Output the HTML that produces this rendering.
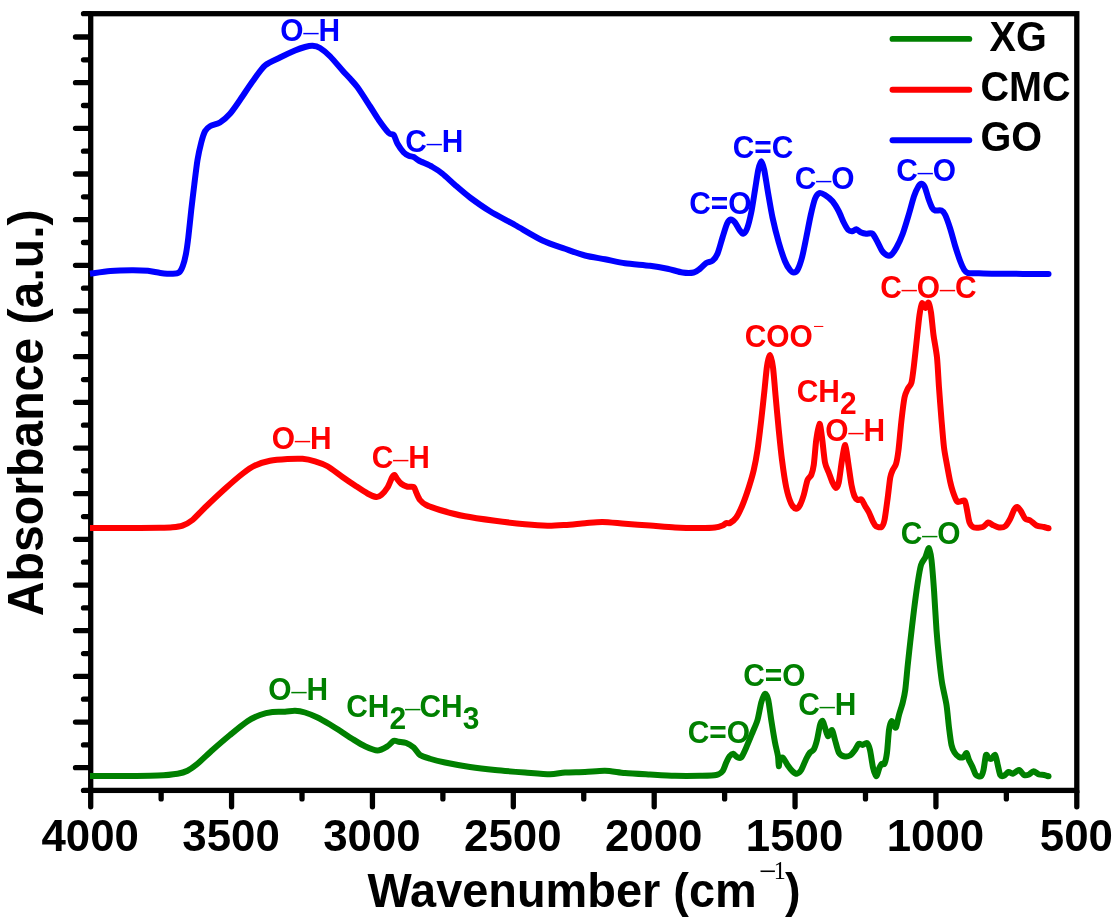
<!DOCTYPE html>
<html><head><meta charset="utf-8"><title>FTIR spectra</title>
<style>
html,body{margin:0;padding:0;background:#fff;}
svg{display:block;font-family:"Liberation Sans",sans-serif;}
</style></head><body>
<svg width="1119" height="923" viewBox="0 0 1119 923">
<rect width="1119" height="923" fill="#fff"/>
<rect x="90.70" y="13.70" width="986.10" height="776.70" fill="none" stroke="#000" stroke-width="5.30"/>
<path d="M89.70 37.00 H75.50M89.70 82.67 H75.50M89.70 128.34 H75.50M89.70 174.01 H75.50M89.70 219.68 H75.50M89.70 265.35 H75.50M89.70 311.02 H75.50M89.70 356.69 H75.50M89.70 402.36 H75.50M89.70 448.03 H75.50M89.70 493.70 H75.50M89.70 539.37 H75.50M89.70 585.04 H75.50M89.70 630.71 H75.50M89.70 676.38 H75.50M89.70 722.05 H75.50M89.70 767.72 H75.50M89.70 13.70 H83.50M89.70 59.84 H83.50M89.70 105.50 H83.50M89.70 151.18 H83.50M89.70 196.84 H83.50M89.70 242.52 H83.50M89.70 288.19 H83.50M89.70 333.86 H83.50M89.70 379.53 H83.50M89.70 425.19 H83.50M89.70 470.87 H83.50M89.70 516.54 H83.50M89.70 562.21 H83.50M89.70 607.88 H83.50M89.70 653.55 H83.50M89.70 699.22 H83.50M89.70 744.88 H83.50M89.70 790.40 H83.50M90.70 791.40 V806.80M231.57 791.40 V806.80M372.44 791.40 V806.80M513.31 791.40 V806.80M654.19 791.40 V806.80M795.06 791.40 V806.80M935.93 791.40 V806.80M1076.80 791.40 V806.80M161.14 791.40 V798.90M302.01 791.40 V798.90M442.88 791.40 V798.90M583.75 791.40 V798.90M724.62 791.40 V798.90M865.49 791.40 V798.90M1006.36 791.40 V798.90" fill="none" stroke="#000" stroke-width="5.3" stroke-linecap="round"/>
<path d="M90.00 273.70C92.72 273.34 104.83 271.47 110.40 271.00C115.97 270.53 126.80 270.23 131.80 270.20C136.80 270.17 144.09 270.44 147.90 270.80C151.71 271.16 157.07 272.50 160.40 272.90C163.73 273.30 170.39 273.87 172.90 273.80C175.41 273.73 177.88 273.43 179.20 272.40C180.52 271.37 181.89 268.61 182.80 266.10C183.71 263.59 185.27 257.41 186.00 253.60C186.73 249.79 187.60 243.31 188.30 237.50C189.00 231.69 190.46 217.00 191.25 210.00C192.04 203.00 193.42 191.67 194.25 185.00C195.08 178.33 196.57 165.67 197.50 160.00C198.43 154.33 200.25 146.33 201.25 142.50C202.25 138.67 203.83 133.42 205.00 131.25C206.17 129.08 208.00 127.42 210.00 126.25C212.00 125.08 217.33 124.17 220.00 122.50C222.67 120.83 227.33 116.75 230.00 113.75C232.67 110.75 237.00 104.30 240.00 100.00C243.00 95.70 249.17 86.10 252.50 81.50C255.83 76.90 261.33 68.70 265.00 65.50C268.67 62.30 276.00 59.50 280.00 57.50C284.00 55.50 291.67 51.90 295.00 50.50C298.33 49.10 302.67 47.63 305.00 47.00C307.33 46.37 310.50 45.62 312.50 45.75C314.50 45.88 317.67 46.60 320.00 48.00C322.33 49.40 327.00 53.25 330.00 56.25C333.00 59.25 339.83 67.52 342.50 70.50C345.17 73.48 348.00 76.36 350.00 78.60C352.00 80.84 354.83 83.61 357.50 87.30C360.17 90.99 367.17 101.89 370.00 106.25C372.83 110.61 376.25 116.43 378.75 120.00C381.25 123.57 386.75 131.00 388.75 133.00C390.75 135.00 392.58 133.57 393.75 135.00C394.92 136.43 396.17 141.42 397.50 143.75C398.83 146.08 402.25 150.90 403.75 152.50C405.25 154.10 407.42 155.15 408.75 155.75C410.08 156.35 412.42 156.37 413.75 157.00C415.08 157.63 416.25 159.17 418.75 160.50C421.25 161.83 429.33 165.23 432.50 167.00C435.67 168.77 439.50 171.35 442.50 173.75C445.50 176.15 451.33 181.83 455.00 185.00C458.67 188.17 465.33 194.00 470.00 197.50C474.67 201.00 484.00 207.58 490.00 211.25C496.00 214.92 508.00 221.10 515.00 225.00C522.00 228.90 535.83 237.33 542.50 240.50C549.17 243.67 559.33 246.75 565.00 248.75C570.67 250.75 579.67 254.10 585.00 255.50C590.33 256.90 599.67 258.22 605.00 259.25C610.33 260.28 619.00 262.38 625.00 263.25C631.00 264.12 644.33 265.02 650.00 265.75C655.67 266.48 663.17 267.85 667.50 268.75C671.83 269.65 679.00 272.00 682.50 272.50C686.00 273.00 691.42 273.00 693.75 272.50C696.08 272.00 698.33 270.02 700.00 268.75C701.67 267.48 704.58 264.07 706.25 263.00C707.92 261.93 711.00 261.98 712.50 260.75C714.00 259.52 716.17 256.85 717.50 253.75C718.83 250.65 721.23 241.50 722.50 237.50C723.77 233.50 725.90 226.15 727.00 223.75C728.10 221.35 729.68 219.67 730.75 219.50C731.82 219.33 733.83 221.10 735.00 222.50C736.17 223.90 738.43 228.50 739.50 230.00C740.57 231.50 742.00 233.92 743.00 233.75C744.00 233.58 745.90 231.58 747.00 228.75C748.10 225.92 750.18 217.67 751.25 212.50C752.32 207.33 754.07 195.67 755.00 190.00C755.93 184.33 757.42 173.83 758.25 170.00C759.08 166.17 760.45 161.25 761.25 161.25C762.05 161.25 763.35 165.83 764.25 170.00C765.15 174.17 766.90 186.17 768.00 192.50C769.10 198.83 771.07 210.83 772.50 217.50C773.93 224.17 777.08 236.67 778.75 242.50C780.42 248.33 783.50 257.58 785.00 261.25C786.50 264.92 788.83 268.50 790.00 270.00C791.17 271.50 792.75 272.50 793.75 272.50C794.75 272.50 796.40 272.00 797.50 270.00C798.60 268.00 800.83 261.83 802.00 257.50C803.17 253.17 805.08 243.17 806.25 237.50C807.42 231.83 809.58 220.17 810.75 215.00C811.92 209.83 813.83 201.68 815.00 198.75C816.17 195.82 818.17 193.50 819.50 193.00C820.83 192.50 823.27 193.90 825.00 195.00C826.73 196.10 830.67 199.08 832.50 201.25C834.33 203.42 837.25 208.42 838.75 211.25C840.25 214.08 842.48 220.00 843.75 222.50C845.02 225.00 847.08 228.83 848.25 230.00C849.42 231.17 851.43 231.35 852.50 231.25C853.57 231.15 855.08 229.08 856.25 229.25C857.42 229.42 859.92 231.90 861.25 232.50C862.58 233.10 864.75 233.58 866.25 233.75C867.75 233.92 870.97 232.58 872.50 233.75C874.03 234.92 876.48 240.23 877.75 242.50C879.02 244.77 880.83 249.08 882.00 250.75C883.17 252.42 885.30 254.43 886.50 255.00C887.70 255.57 889.67 256.00 891.00 255.00C892.33 254.00 894.93 250.33 896.50 247.50C898.07 244.67 901.08 238.25 902.75 233.75C904.42 229.25 907.50 218.75 909.00 213.75C910.50 208.75 912.73 199.92 914.00 196.25C915.27 192.58 917.50 187.92 918.50 186.25C919.50 184.58 920.67 183.65 921.50 183.75C922.33 183.85 923.82 185.00 924.75 187.00C925.68 189.00 927.50 195.95 928.50 198.75C929.50 201.55 931.35 206.43 932.25 208.00C933.15 209.57 934.02 210.17 935.25 210.50C936.48 210.83 940.17 209.90 941.50 210.50C942.83 211.10 944.08 212.57 945.25 215.00C946.42 217.43 948.92 224.58 950.25 228.75C951.58 232.92 953.92 241.92 955.25 246.25C956.58 250.58 959.08 258.15 960.25 261.25C961.42 264.35 963.00 267.93 964.00 269.50C965.00 271.07 965.75 272.50 967.75 273.00C969.75 273.50 974.83 273.15 979.00 273.25C983.17 273.35 989.73 273.65 999.00 273.75C1008.27 273.85 1041.90 273.97 1048.50 274.00" fill="none" stroke="#0000ff" stroke-width="6" stroke-linejoin="round" stroke-linecap="butt"/>
<circle cx="1048.50" cy="274.00" r="3" fill="#0000ff"/>
<path d="M90.00 527.90C96.67 527.90 130.67 527.91 140.00 527.90C149.33 527.89 155.67 527.88 160.00 527.80C164.33 527.72 169.50 527.59 172.50 527.30C175.50 527.01 179.83 526.57 182.50 525.60C185.17 524.63 189.50 522.41 192.50 520.00C195.50 517.59 200.67 511.67 205.00 507.50C209.33 503.33 220.00 493.25 225.00 488.75C230.00 484.25 238.50 476.85 242.50 473.75C246.50 470.65 251.33 467.23 255.00 465.50C258.67 463.77 265.67 461.67 270.00 460.80C274.33 459.93 283.17 459.27 287.50 459.00C291.83 458.73 298.83 458.49 302.50 458.80C306.17 459.11 311.67 460.31 315.00 461.30C318.33 462.29 323.83 464.16 327.50 466.25C331.17 468.34 338.83 474.43 342.50 477.00C346.17 479.57 351.67 483.30 355.00 485.50C358.33 487.70 364.67 491.97 367.50 493.50C370.33 495.03 374.42 496.80 376.25 497.00C378.08 497.20 379.75 496.27 381.25 495.00C382.75 493.73 386.07 489.83 387.50 487.50C388.93 485.17 391.07 479.17 392.00 477.50C392.93 475.83 393.83 474.83 394.50 475.00C395.17 475.17 396.10 477.58 397.00 478.75C397.90 479.92 399.85 482.68 401.25 483.75C402.65 484.82 405.83 486.32 407.50 486.75C409.17 487.18 412.58 486.23 413.75 487.00C414.92 487.77 415.42 490.77 416.25 492.50C417.08 494.23 418.67 498.33 420.00 500.00C421.33 501.67 423.58 503.67 426.25 505.00C428.92 506.33 434.83 508.50 440.00 510.00C445.17 511.50 457.67 514.82 465.00 516.25C472.33 517.68 487.00 519.68 495.00 520.75C503.00 521.82 518.00 523.58 525.00 524.25C532.00 524.92 542.17 525.65 547.50 525.75C552.83 525.85 560.00 525.33 565.00 525.00C570.00 524.67 580.00 523.65 585.00 523.25C590.00 522.85 597.17 521.93 602.50 522.00C607.83 522.07 618.67 523.28 625.00 523.75C631.33 524.22 643.33 525.00 650.00 525.50C656.67 526.00 668.33 527.17 675.00 527.50C681.67 527.83 694.67 528.00 700.00 528.00C705.33 528.00 712.00 527.83 715.00 527.50C718.00 527.17 721.00 526.10 722.50 525.50C724.00 524.90 725.25 523.33 726.25 523.00C727.25 522.67 728.67 523.73 730.00 523.00C731.33 522.27 734.58 519.90 736.25 517.50C737.92 515.10 740.83 509.00 742.50 505.00C744.17 501.00 747.25 492.17 748.75 487.50C750.25 482.83 752.58 475.00 753.75 470.00C754.92 465.00 756.50 456.67 757.50 450.00C758.50 443.33 760.32 428.00 761.25 420.00C762.18 412.00 763.73 397.17 764.50 390.00C765.27 382.83 766.27 370.92 767.00 366.25C767.73 361.58 769.20 354.83 770.00 355.00C770.80 355.17 772.27 362.17 773.00 367.50C773.73 372.83 774.73 386.67 775.50 395.00C776.27 403.33 777.88 421.33 778.75 430.00C779.62 438.67 781.00 452.33 782.00 460.00C783.00 467.67 785.02 481.67 786.25 487.50C787.48 493.33 789.92 500.92 791.25 503.75C792.58 506.58 795.08 508.58 796.25 508.75C797.42 508.92 799.00 506.83 800.00 505.00C801.00 503.17 802.75 498.33 803.75 495.00C804.75 491.67 806.50 482.67 807.50 480.00C808.50 477.33 810.42 477.00 811.25 475.00C812.08 473.00 813.08 469.67 813.75 465.00C814.42 460.33 815.48 445.50 816.25 440.00C817.02 434.50 818.73 424.08 819.50 423.75C820.27 423.42 821.27 432.33 822.00 437.50C822.73 442.67 824.10 457.83 825.00 462.50C825.90 467.17 827.75 469.83 828.75 472.50C829.75 475.17 831.57 480.43 832.50 482.50C833.43 484.57 834.92 488.00 835.75 488.00C836.58 488.00 837.92 486.23 838.75 482.50C839.58 478.77 841.13 465.00 842.00 460.00C842.87 455.00 844.38 444.33 845.25 445.00C846.12 445.67 847.67 459.67 848.50 465.00C849.33 470.33 850.70 480.83 851.50 485.00C852.30 489.17 853.67 494.25 854.50 496.25C855.33 498.25 856.82 499.57 857.75 500.00C858.68 500.43 860.50 498.67 861.50 499.50C862.50 500.33 864.25 504.52 865.25 506.25C866.25 507.98 868.00 510.50 869.00 512.50C870.00 514.50 871.82 519.42 872.75 521.25C873.68 523.08 874.83 525.48 876.00 526.25C877.17 527.02 880.37 527.83 881.50 527.00C882.63 526.17 883.67 523.93 884.50 520.00C885.33 516.07 886.98 503.17 887.75 497.50C888.52 491.83 889.58 481.17 890.25 477.50C890.92 473.83 891.98 471.80 892.75 470.00C893.52 468.20 895.23 466.67 896.00 464.00C896.77 461.33 897.77 455.87 898.50 450.00C899.23 444.13 900.70 427.00 901.50 420.00C902.30 413.00 903.67 401.67 904.50 397.50C905.33 393.33 906.82 390.75 907.75 388.75C908.68 386.75 910.67 385.67 911.50 382.50C912.33 379.33 913.27 371.00 914.00 365.00C914.73 359.00 916.27 344.17 917.00 337.50C917.73 330.83 918.83 319.56 919.50 315.00C920.17 310.44 921.23 304.23 922.00 303.30C922.77 302.37 924.38 308.09 925.25 308.00C926.12 307.91 927.73 302.00 928.50 302.60C929.27 303.20 930.33 308.18 931.00 312.50C931.67 316.82 932.70 329.00 933.50 335.00C934.30 341.00 936.27 350.50 937.00 357.50C937.73 364.50 938.40 379.17 939.00 387.50C939.60 395.83 940.83 412.00 941.50 420.00C942.17 428.00 943.27 441.50 944.00 447.50C944.73 453.50 946.17 460.40 947.00 465.00C947.83 469.60 949.45 478.40 950.25 482.00C951.05 485.60 952.10 489.40 953.00 492.00C953.90 494.60 956.03 500.23 957.00 501.50C957.97 502.77 959.22 501.60 960.25 501.50C961.28 501.40 963.85 499.62 964.75 500.75C965.65 501.88 966.37 507.10 967.00 510.00C967.63 512.90 968.57 520.17 969.50 522.50C970.43 524.83 972.23 526.90 974.00 527.50C975.77 528.10 980.85 527.67 982.75 527.00C984.65 526.33 986.92 522.77 988.25 522.50C989.58 522.23 991.32 524.33 992.75 525.00C994.18 525.67 997.33 527.33 999.00 527.50C1000.67 527.67 1003.75 527.42 1005.25 526.25C1006.75 525.08 1009.08 520.92 1010.25 518.75C1011.42 516.58 1013.07 511.57 1014.00 510.00C1014.93 508.43 1016.32 506.83 1017.25 507.00C1018.18 507.17 1019.93 509.68 1021.00 511.25C1022.07 512.82 1024.02 517.52 1025.25 518.75C1026.48 519.98 1028.75 519.60 1030.25 520.50C1031.75 521.40 1034.67 524.63 1036.50 525.50C1038.33 526.37 1042.40 526.63 1044.00 527.00C1045.60 527.37 1047.90 528.08 1048.50 528.25" fill="none" stroke="#ff0000" stroke-width="6" stroke-linejoin="round" stroke-linecap="butt"/>
<circle cx="1048.50" cy="528.25" r="3" fill="#ff0000"/>
<path d="M90.00 775.95C95.33 775.94 120.93 775.95 130.00 775.90C139.07 775.85 151.67 775.89 158.00 775.60C164.33 775.31 173.57 774.40 177.50 773.75C181.43 773.10 184.83 772.08 187.50 770.75C190.17 769.42 194.17 766.52 197.50 763.75C200.83 760.98 208.17 753.83 212.50 750.00C216.83 746.17 225.33 738.83 230.00 735.00C234.67 731.17 243.50 723.92 247.50 721.25C251.50 718.58 256.67 716.23 260.00 715.00C263.33 713.77 269.17 712.43 272.50 712.00C275.83 711.57 282.00 711.92 285.00 711.75C288.00 711.58 292.33 710.65 295.00 710.75C297.67 710.85 302.00 711.60 305.00 712.50C308.00 713.40 314.17 715.90 317.50 717.50C320.83 719.10 327.00 722.73 330.00 724.50C333.00 726.27 337.00 728.87 340.00 730.80C343.00 732.73 349.17 736.93 352.50 739.00C355.83 741.07 361.67 744.77 365.00 746.30C368.33 747.83 374.50 750.51 377.50 750.50C380.50 750.49 385.33 747.55 387.50 746.25C389.67 744.95 392.25 741.35 393.75 740.75C395.25 740.15 397.08 741.45 398.75 741.75C400.42 742.05 404.25 742.23 406.25 743.00C408.25 743.77 411.92 745.90 413.75 747.50C415.58 749.10 417.83 753.50 420.00 755.00C422.17 756.50 426.67 757.75 430.00 758.75C433.33 759.75 439.67 761.40 445.00 762.50C450.33 763.60 463.33 766.00 470.00 767.00C476.67 768.00 487.67 769.27 495.00 770.00C502.33 770.73 517.67 771.93 525.00 772.50C532.33 773.07 544.67 774.25 550.00 774.25C555.33 774.25 560.33 772.80 565.00 772.50C569.67 772.20 579.67 772.23 585.00 772.00C590.33 771.77 599.67 770.62 605.00 770.75C610.33 770.88 619.00 772.50 625.00 773.00C631.00 773.50 643.33 774.13 650.00 774.50C656.67 774.87 668.33 775.58 675.00 775.75C681.67 775.92 694.50 775.85 700.00 775.75C705.50 775.65 713.25 775.60 716.25 775.00C719.25 774.40 721.17 772.92 722.50 771.25C723.83 769.58 725.32 764.50 726.25 762.50C727.18 760.50 728.57 757.42 729.50 756.25C730.43 755.08 732.25 753.65 733.25 753.75C734.25 753.85 735.93 756.50 737.00 757.00C738.07 757.50 740.02 758.77 741.25 757.50C742.48 756.23 744.75 750.83 746.25 747.50C747.75 744.17 751.00 736.17 752.50 732.50C754.00 728.83 756.33 724.00 757.50 720.00C758.67 716.00 760.25 706.00 761.25 702.50C762.25 699.00 764.07 694.08 765.00 693.75C765.93 693.42 767.42 696.50 768.25 700.00C769.08 703.50 770.35 714.33 771.25 720.00C772.15 725.67 774.10 737.67 775.00 742.50C775.90 747.33 777.50 753.08 778.00 756.25C778.50 759.42 778.48 765.92 778.75 766.25C779.02 766.58 779.40 759.85 780.00 758.75C780.60 757.65 782.25 757.17 783.25 758.00C784.25 758.83 786.27 763.23 787.50 765.00C788.73 766.77 791.27 770.08 792.50 771.25C793.73 772.42 795.58 773.92 796.75 773.75C797.92 773.58 799.98 772.00 801.25 770.00C802.52 768.00 805.08 761.08 806.25 758.75C807.42 756.42 809.00 753.73 810.00 752.50C811.00 751.27 812.82 751.17 813.75 749.50C814.68 747.83 816.17 743.27 817.00 740.00C817.83 736.73 819.27 727.57 820.00 725.00C820.73 722.43 821.83 720.42 822.50 720.75C823.17 721.08 824.27 725.43 825.00 727.50C825.73 729.57 827.07 735.92 828.00 736.25C828.93 736.58 831.07 729.50 832.00 730.00C832.93 730.50 834.10 737.00 835.00 740.00C835.90 743.00 837.58 750.33 838.75 752.50C839.92 754.67 842.25 755.85 843.75 756.25C845.25 756.65 848.50 756.33 850.00 755.50C851.50 754.67 853.83 751.57 855.00 750.00C856.17 748.43 857.75 744.42 858.75 743.75C859.75 743.08 861.40 745.10 862.50 745.00C863.60 744.90 866.00 742.33 867.00 743.00C868.00 743.67 869.20 746.73 870.00 750.00C870.80 753.27 872.17 764.00 873.00 767.50C873.83 771.00 875.38 776.25 876.25 776.25C877.12 776.25 878.73 769.17 879.50 767.50C880.27 765.83 881.33 764.25 882.00 763.75C882.67 763.25 883.83 765.25 884.50 763.75C885.17 762.25 886.40 757.00 887.00 752.50C887.60 748.00 888.40 734.17 889.00 730.00C889.60 725.83 890.83 721.92 891.50 721.25C892.17 720.58 893.40 724.17 894.00 725.00C894.60 725.83 895.33 728.83 896.00 727.50C896.67 726.17 898.10 718.33 899.00 715.00C899.90 711.67 901.92 705.83 902.75 702.50C903.58 699.17 904.58 695.00 905.25 690.00C905.92 685.00 907.08 671.40 907.75 665.00C908.42 658.60 909.42 649.33 910.25 642.00C911.08 634.67 913.00 617.93 914.00 610.00C915.00 602.07 916.82 588.50 917.75 582.50C918.68 576.50 920.00 568.33 921.00 565.00C922.00 561.67 924.18 559.77 925.25 557.50C926.32 555.23 928.17 547.67 929.00 548.00C929.83 548.33 930.83 554.40 931.50 560.00C932.17 565.60 933.33 580.67 934.00 590.00C934.67 599.33 935.83 621.00 936.50 630.00C937.17 639.00 938.27 650.50 939.00 657.50C939.73 664.50 941.00 676.17 942.00 682.50C943.00 688.83 945.57 699.00 946.50 705.00C947.43 711.00 948.33 722.17 949.00 727.50C949.67 732.83 950.77 741.67 951.50 745.00C952.23 748.33 953.50 750.90 954.50 752.50C955.50 754.10 957.80 756.40 959.00 757.00C960.20 757.60 962.50 757.53 963.50 757.00C964.50 756.47 965.77 752.60 966.50 753.00C967.23 753.40 968.17 758.07 969.00 760.00C969.83 761.93 971.82 765.50 972.75 767.50C973.68 769.50 974.90 773.83 976.00 775.00C977.10 776.17 980.00 776.92 981.00 776.25C982.00 775.58 982.83 772.83 983.50 770.00C984.17 767.17 985.33 756.60 986.00 755.00C986.67 753.40 987.77 757.50 988.50 758.00C989.23 758.50 990.60 759.15 991.50 758.75C992.40 758.35 994.42 754.17 995.25 755.00C996.08 755.83 997.08 762.33 997.75 765.00C998.42 767.67 999.42 773.57 1000.25 775.00C1001.08 776.43 1002.90 776.15 1004.00 775.75C1005.10 775.35 1007.33 772.27 1008.50 772.00C1009.67 771.73 1011.35 774.02 1012.75 773.75C1014.15 773.48 1017.50 769.83 1019.00 770.00C1020.50 770.17 1022.67 774.40 1024.00 775.00C1025.33 775.60 1027.73 775.00 1029.00 774.50C1030.27 774.00 1032.17 771.25 1033.50 771.25C1034.83 771.25 1037.60 774.00 1039.00 774.50C1040.40 775.00 1042.73 774.77 1044.00 775.00C1045.27 775.23 1047.90 776.08 1048.50 776.25" fill="none" stroke="#008000" stroke-width="6" stroke-linejoin="round" stroke-linecap="butt"/>
<circle cx="1048.50" cy="776.25" r="3" fill="#008000"/>
<path d="M892.5 38.9 H969.3" stroke="#008000" stroke-width="5.9" stroke-linecap="round"/>
<path d="M892.5 89.7 H969.3" stroke="#ff0000" stroke-width="5.9" stroke-linecap="round"/>
<path d="M892.5 140.3 H969.3" stroke="#0000ff" stroke-width="5.9" stroke-linecap="round"/>
<g font-size="39.6" font-weight="bold" fill="#000">
<text transform="translate(989.5 50.8) scale(1 1.05)">XG</text>
<text transform="translate(980.5 100.5) scale(1 1.05)">CMC</text>
<text transform="translate(980.5 151.3) scale(1 1.05)">GO</text>
</g>
<g font-size="43.8" font-weight="bold" fill="#000" text-anchor="middle">
<text transform="translate(90.20 851.3) scale(1 1.03)">4000</text>
<text transform="translate(231.07 851.3) scale(1 1.03)">3500</text>
<text transform="translate(371.94 851.3) scale(1 1.03)">3000</text>
<text transform="translate(512.81 851.3) scale(1 1.03)">2500</text>
<text transform="translate(653.69 851.3) scale(1 1.03)">2000</text>
<text transform="translate(794.56 851.3) scale(1 1.03)">1500</text>
<text transform="translate(935.43 851.3) scale(1 1.03)">1000</text>
<text transform="translate(1076.30 851.3) scale(1 1.03)">500</text>
</g>
<text transform="translate(367.6 907.2) scale(1 1.03)" font-size="46.9" font-weight="bold" fill="#000">Wavenumber (cm<tspan font-family="'Liberation Serif',serif" font-weight="normal" font-size="31" dy="-24.2" dx="2">−</tspan><tspan font-family="'Liberation Serif',serif" font-weight="normal" font-size="24" dy="-2.8" dx="-2.3">1</tspan><tspan dy="27" dx="-0.8">)</tspan></text>
<text transform="translate(43.4 616.3) rotate(-90) scale(1 1.04)" font-size="48.2" font-weight="bold" fill="#000">Absorbance (a.u.)</text>
<g font-size="29.9" font-weight="bold">
<text transform="translate(280.2 41.0) scale(1 1.02)" fill="#0000ff">O<tspan font-weight="normal" font-family="'Liberation Serif',serif">–</tspan>H</text>
<text transform="translate(405.2 151.7) scale(1 1.02)" fill="#0000ff">C<tspan font-weight="normal" font-family="'Liberation Serif',serif">–</tspan>H</text>
<text transform="translate(689.2 214.2) scale(1 1.02)" fill="#0000ff">C=O</text>
<text transform="translate(732.7 157.5) scale(1 1.02)" fill="#0000ff">C=C</text>
<text transform="translate(794.7 189.2) scale(1 1.02)" fill="#0000ff">C<tspan font-weight="normal" font-family="'Liberation Serif',serif">–</tspan>O</text>
<text transform="translate(896.2 181.2) scale(1 1.02)" fill="#0000ff">C<tspan font-weight="normal" font-family="'Liberation Serif',serif">–</tspan>O</text>
<text transform="translate(271.7 449.2) scale(1 1.02)" fill="#ff0000">O<tspan font-weight="normal" font-family="'Liberation Serif',serif">–</tspan>H</text>
<text transform="translate(371.7 468.0) scale(1 1.02)" fill="#ff0000">C<tspan font-weight="normal" font-family="'Liberation Serif',serif">–</tspan>H</text>
<text transform="translate(744.7 347.0) scale(1 1.02)" fill="#ff0000">COO<tspan font-weight="normal" font-family="'Liberation Serif',serif" font-size="20" dy="-13.6" dx="0.3">−</tspan></text>
<text transform="translate(796.7 402.0) scale(1 1.02)" fill="#ff0000">CH<tspan dy="11.8">2</tspan></text>
<text transform="translate(825.2 441.2) scale(1 1.02)" fill="#ff0000">O<tspan font-weight="normal" font-family="'Liberation Serif',serif">–</tspan>H</text>
<text transform="translate(880.2 298.2) scale(1 1.02)" fill="#ff0000">C<tspan font-weight="normal" font-family="'Liberation Serif',serif">–</tspan>O<tspan font-weight="normal" font-family="'Liberation Serif',serif">–</tspan>C</text>
<text transform="translate(268.2 699.5) scale(1 1.02)" fill="#008000">O<tspan font-weight="normal" font-family="'Liberation Serif',serif">–</tspan>H</text>
<text transform="translate(346.2 716.7) scale(1 1.02)" fill="#008000">CH<tspan dy="11.8">2</tspan><tspan dy="-11.8" dx="-0.7" font-weight="normal" font-family="'Liberation Serif',serif">–</tspan><tspan dx="-0.7">CH</tspan><tspan dy="11.8">3</tspan></text>
<text transform="translate(687.7 742.5) scale(1 1.02)" fill="#008000">C=O</text>
<text transform="translate(743.2 685.7) scale(1 1.02)" fill="#008000">C=O</text>
<text transform="translate(798.2 715.0) scale(1 1.02)" fill="#008000">C<tspan font-weight="normal" font-family="'Liberation Serif',serif">–</tspan>H</text>
<text transform="translate(900.7 544.2) scale(1 1.02)" fill="#008000">C<tspan font-weight="normal" font-family="'Liberation Serif',serif">–</tspan>O</text>
</g>
</svg>
</body></html>
